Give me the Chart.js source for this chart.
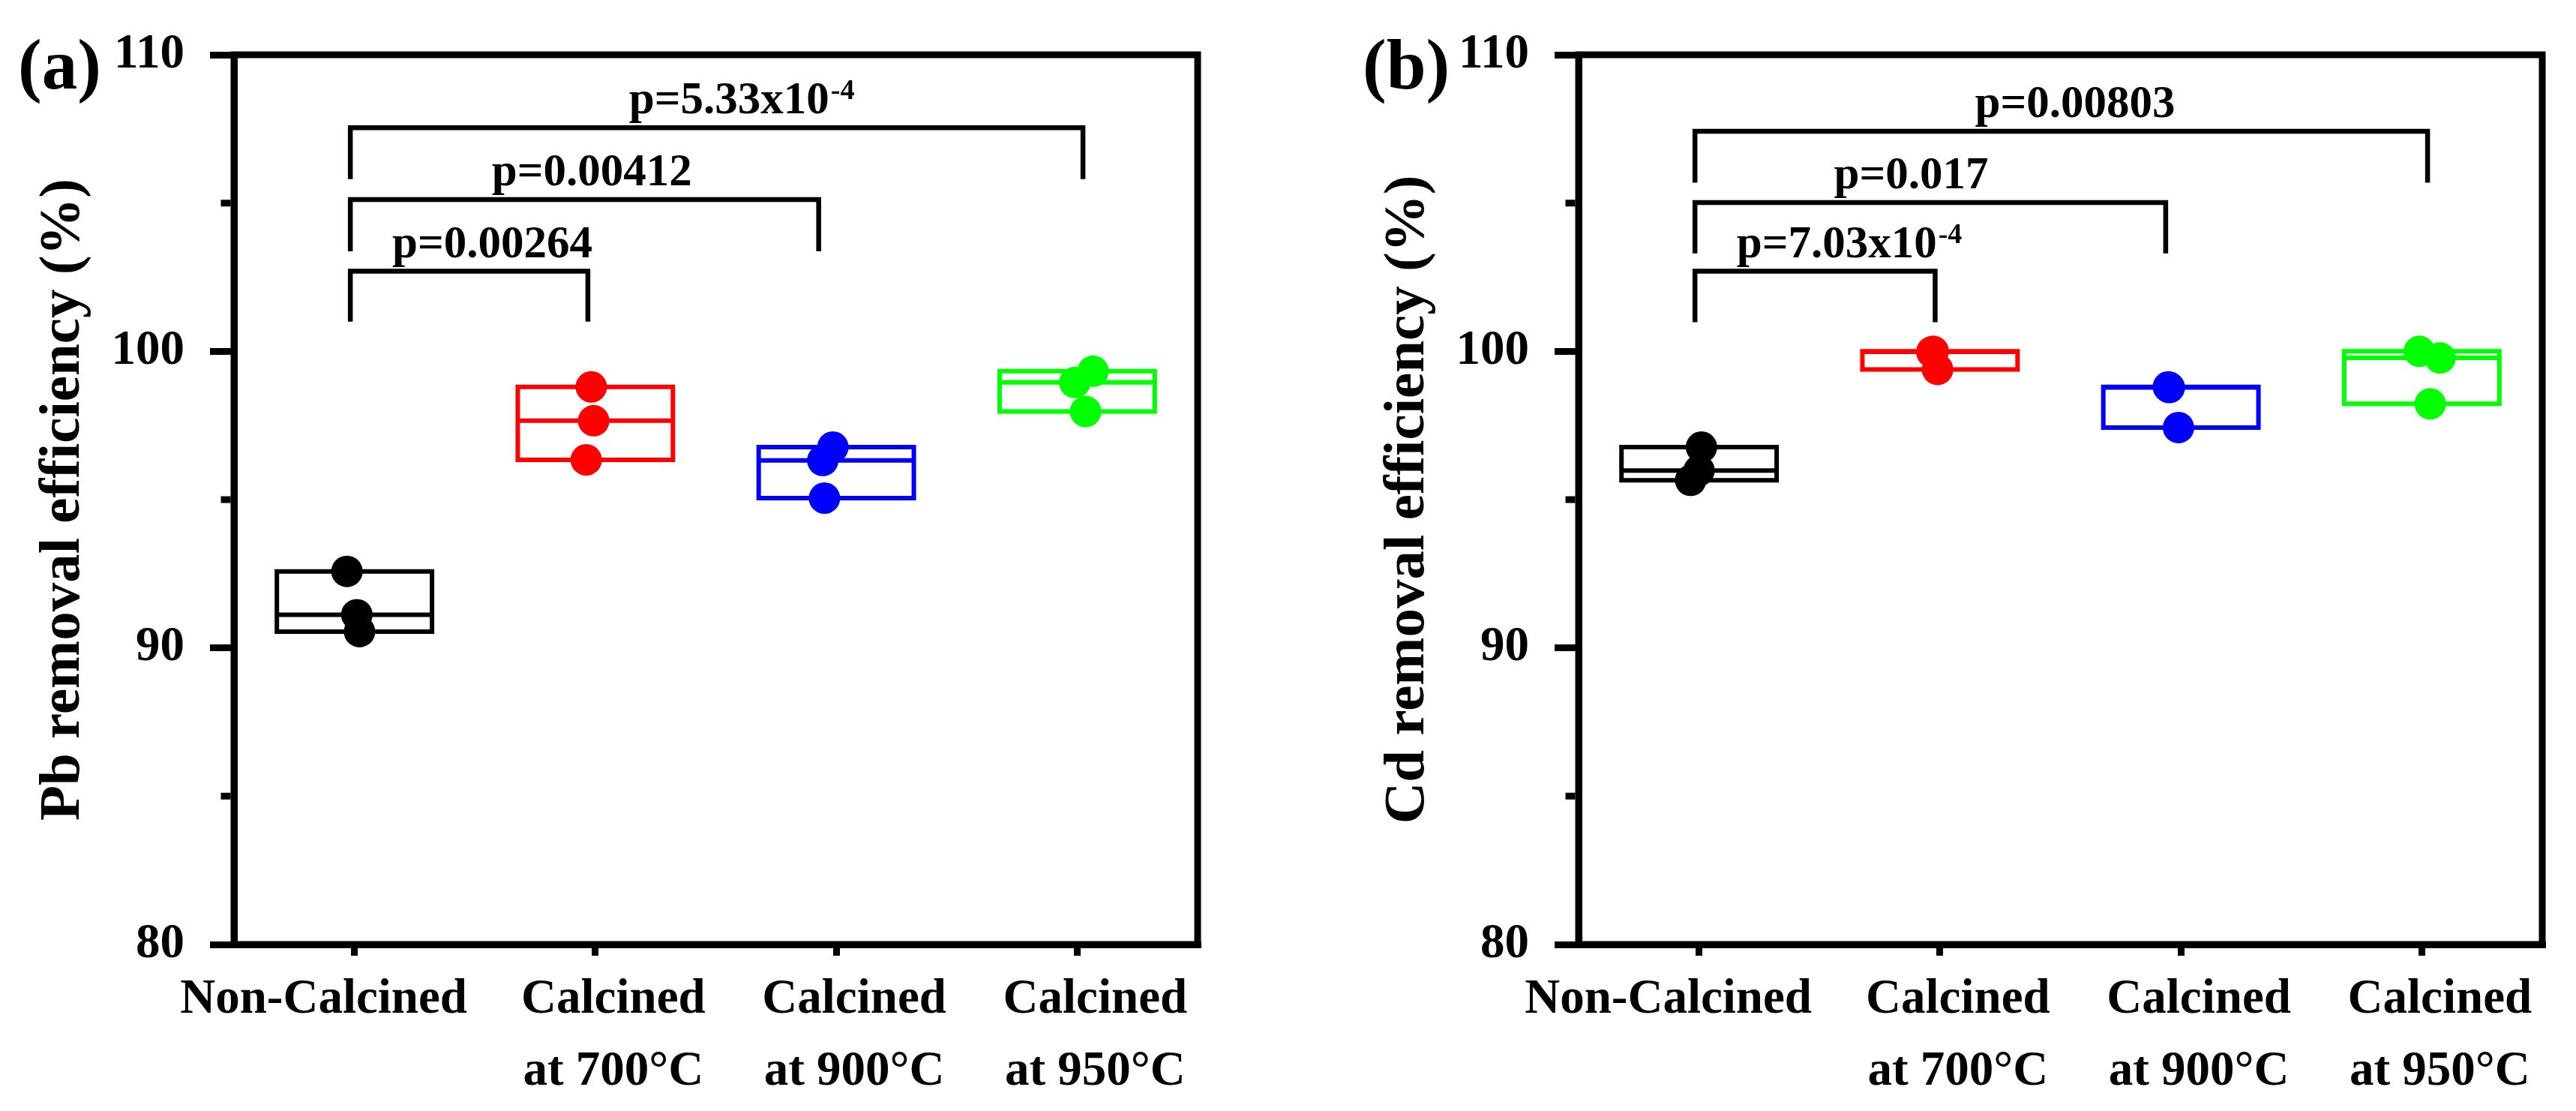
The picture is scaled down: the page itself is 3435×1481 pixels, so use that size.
<!DOCTYPE html>
<html>
<head>
<meta charset="utf-8">
<script src="https://cdn.jsdelivr.net/npm/chart.js@4.4.1/dist/chart.umd.min.js"></script>
<style>
  html, body { margin: 0; padding: 0; background: #fff; }
  #wrap { position: relative; width: 3435px; height: 1481px; }
  canvas { position: absolute; top: 0; }
  #chartA { left: 0; }
  #chartB { left: 1793px; }
</style>
</head>
<body>
<div id="wrap">
  <canvas id="chartA" width="1642" height="1481"></canvas>
  <canvas id="chartB" width="1642" height="1481"></canvas>
</div>
<script>
var categories = [['Non-Calcined'], ['Calcined', 'at 700°C'], ['Calcined', 'at 900°C'], ['Calcined', 'at 950°C']];
var groupColors = ['#000000', '#ff0000', '#0000ff', '#00ff00'];
var yTicks = [80, 90, 100, 110];
var yMinorTicks = [85, 95, 105];

// (a) Pb removal efficiency, three replicates per group
var pbNonCalcined = [92.58, 91.12, 90.55];
var pb700 = [98.80, 97.66, 96.34];
var pb900 = [96.77, 96.32, 95.05];
var pb950 = [99.33, 98.95, 97.97];
// sideways spread of the replicate dots, in category units
var pbJitter = [[-0.031, 0.010, 0.021], [-0.017, -0.007, -0.038], [-0.014, -0.056, -0.049], [0.066, -0.010, 0.035]];
// significance brackets
var pbBracketFrom = [0.983, 0.983, 0.983];
var pbBracketTo = [1.969, 2.927, 4.024];
var pbBracketTop = [102.70, 105.12, 107.54];
var pbBracketFoot = [101.00, 103.37, 105.81];
var pbPText = ['p=0.00264', 'p=0.00412', 'p=5.33x10'];
var pbPSup = ['', '', '-4'];
var pbPTextX = [1.157, 1.570, 2.140];

// (b) Cd removal efficiency
var cdNonCalcined = [96.77, 95.98, 95.65];
var cd700 = [100.00, 99.98, 99.39];
var cd900 = [98.80, 98.78, 97.43];
var cd950 = [100.00, 99.78, 98.23];
var cdJitter = [[0.010, 0.000, -0.035], [-0.028, -0.034, -0.010], [-0.052, -0.048, -0.010], [-0.010, 0.076, 0.035]];
var cdBracketFrom = [0.983, 0.983, 0.983];
var cdBracketTo = [1.980, 2.937, 4.024];
var cdBracketTop = [102.70, 105.02, 107.42];
var cdBracketFoot = [100.98, 103.30, 105.69];
var cdPText = ['p=7.03x10', 'p=0.017', 'p=0.00803'];
var cdPSup = ['-4', '', ''];
var cdPTextX = [1.156, 1.560, 2.145];

var serif = "'Liberation Serif', 'Times New Roman', serif";

function median(vals) {
  var s = vals.slice().sort(function (a, b) { return a - b; });
  var m = Math.floor(s.length / 2);
  return s.length % 2 ? s[m] : (s[m - 1] + s[m]) / 2;
}

var panelDecor = {
  id: 'panelDecor',
  afterDraw: function (chart, args, opts) {
    var ctx = chart.ctx;
    var area = chart.chartArea;
    var xs = chart.scales.x;
    var ys = chart.scales.y;
    ctx.save();
    ctx.strokeStyle = '#000';
    ctx.lineWidth = 9;
    ctx.lineJoin = 'miter';
    ctx.strokeRect(area.left, area.top, area.right - area.left, area.bottom - area.top);

    ctx.beginPath();
    yMinorTicks.forEach(function (v) {
      var y = ys.getPixelForValue(v);
      ctx.moveTo(area.left - 4.5, y);
      ctx.lineTo(area.left - 17.5, y);
    });
    ctx.stroke();

    ctx.fillStyle = '#000';
    ctx.textAlign = 'left';
    ctx.textBaseline = 'alphabetic';
    opts.text.forEach(function (t, i) {
      var x = xs.getPixelForValue(opts.textX[i]);
      var y = ys.getPixelForValue(opts.top[i] + 0.48);
      ctx.font = 'bold 61px ' + serif;
      ctx.fillText(t, x, y);
      if (opts.sup[i]) {
        var w = ctx.measureText(t).width;
        ctx.font = 'bold 38px ' + serif;
        ctx.fillText(opts.sup[i], x + w + 2, y - 19);
      }
    });

    ctx.font = 'bold 95px ' + serif;
    ctx.fillText(opts.letter, 24, 118);
    ctx.restore();
  }
};

function buildPanel(canvasId, groups, jitter, yTitle, letter, bFrom, bTo, bTop, bFoot, pText, pSup, pTextX) {
  var datasets = [];
  var half = 0.322;
  groups.forEach(function (vals, i) {
    var c = i + 1;
    var color = groupColors[i];
    var lo = Math.min.apply(null, vals);
    var hi = Math.max.apply(null, vals);
    var med = median(vals);
    datasets.push({
      data: vals.map(function (v, k) { return { x: c + jitter[i][k], y: v }; }),
      showLine: false,
      pointRadius: 21,
      pointHoverRadius: 21,
      pointBorderWidth: 0,
      pointBackgroundColor: color,
      order: 0
    });
    datasets.push({
      data: [{ x: c - half, y: lo }, { x: c + half, y: lo }, { x: c + half, y: hi }, { x: c - half, y: hi }, { x: c - half, y: lo }],
      showLine: true,
      borderColor: color,
      borderWidth: 6,
      borderCapStyle: 'square',
      borderJoinStyle: 'miter',
      pointRadius: 0,
      tension: 0,
      order: 1
    });
    datasets.push({
      data: [{ x: c - half, y: med }, { x: c + half, y: med }],
      showLine: true,
      borderColor: color,
      borderWidth: 6,
      pointRadius: 0,
      order: 1
    });
  });
  bFrom.forEach(function (x1, i) {
    datasets.push({
      data: [{ x: x1, y: bFoot[i] }, { x: x1, y: bTop[i] }, { x: bTo[i], y: bTop[i] }, { x: bTo[i], y: bFoot[i] }],
      showLine: true,
      borderColor: '#000',
      borderWidth: 6.5,
      borderJoinStyle: 'miter',
      pointRadius: 0,
      order: 2
    });
  });

  return new Chart(document.getElementById(canvasId), {
    type: 'scatter',
    data: { datasets: datasets },
    plugins: [panelDecor],
    options: {
      responsive: false,
      animation: false,
      devicePixelRatio: 1,
      events: [],
      layout: { padding: { top: 71, right: 45, bottom: 0, left: 0 } },
      plugins: {
        legend: { display: false },
        tooltip: { enabled: false },
        panelDecor: { text: pText, sup: pSup, textX: pTextX, top: bTop, letter: letter }
      },
      scales: {
        x: {
          type: 'linear',
          min: 0.5,
          max: 4.5,
          afterBuildTicks: function (s) {
            s.ticks = categories.map(function (c, i) { return { value: i + 1 }; });
          },
          afterFit: function (s) { s.height = 222; },
          border: { display: true, width: 9, color: '#000' },
          grid: { display: true, drawOnChartArea: false, drawTicks: true, tickLength: 15, lineWidth: 9, color: '#000' },
          ticks: {
            autoSkip: false,
            maxRotation: 0,
            padding: 11,
            labelOffset: 24,
            color: '#000',
            font: { family: serif, size: 65, weight: 'bold', lineHeight: 1.477 },
            callback: function (v) {
              var lines = categories[v - 1];
              // the one-line label sits left of its tick in the original
              if (lines.length === 1) return lines[0] + '        ';
              return lines;
            }
          }
        },
        y: {
          min: 80,
          max: 110,
          afterBuildTicks: function (s) {
            s.ticks = yTicks.map(function (v) { return { value: v }; });
          },
          afterFit: function (s) { s.width = 312; },
          border: { display: true, width: 9, color: '#000' },
          grid: { display: true, drawOnChartArea: false, drawTicks: true, tickLength: 32, lineWidth: 9, color: '#000' },
          ticks: {
            padding: 34,
            color: '#000',
            font: { family: serif, size: 65, weight: 'bold' },
            callback: function (v) { return String(v); }
          },
          title: {
            display: true,
            text: yTitle,
            color: '#000',
            font: { family: serif, size: 77, weight: 'bold' },
            padding: { top: 39, bottom: 0 }
          }
        }
      }
    }
  });
}

buildPanel('chartA', [pbNonCalcined, pb700, pb900, pb950], pbJitter, 'Pb removal efficiency (%)', '(a)',
  pbBracketFrom, pbBracketTo, pbBracketTop, pbBracketFoot, pbPText, pbPSup, pbPTextX);
buildPanel('chartB', [cdNonCalcined, cd700, cd900, cd950], cdJitter, 'Cd removal efficiency (%)', '(b)',
  cdBracketFrom, cdBracketTo, cdBracketTop, cdBracketFoot, cdPText, cdPSup, cdPTextX);
</script>
</body>
</html>
